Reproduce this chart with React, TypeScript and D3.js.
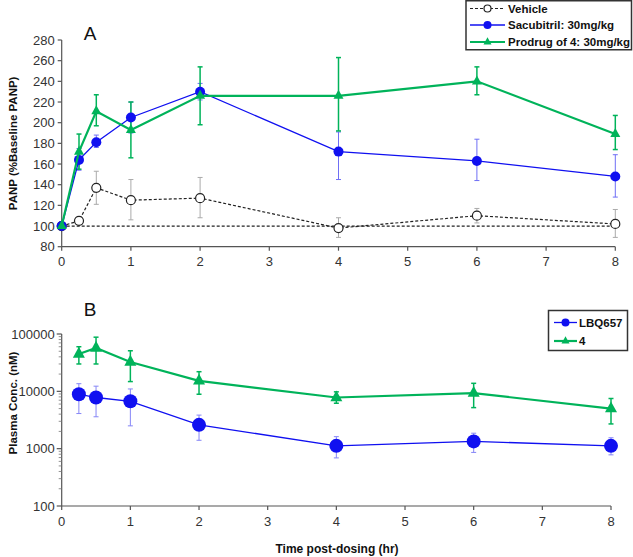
import React from "react";
import * as d3 from "d3";

const timesA = [0, 0.25, 0.5, 1, 2, 4, 6, 8];
const vehicle = [100, 105, 137, 125, 127, 98, 110, 102];
const vehicleLo = [100, 105, 121, 106, 108, 89, 103, 89];
const vehicleHi = [100, 105, 153, 145, 147, 108, 117, 116];
const sacubitril = [100, 164, 181, 205, 230, 172, 163, 148];
const sacubitrilLo = [100, 154, 176, 190, 222, 145, 144, 128];
const sacubitrilHi = [100, 175, 188, 220, 238, 191, 184, 169];
const prodrug = [100, 172, 211, 193, 226, 226, 240, 189];
const prodrugLo = [100, 155, 197, 166, 198, 192, 227, 174];
const prodrugHi = [100, 189, 227, 220, 254, 263, 254, 207];

const timesB = [0.25, 0.5, 1, 2, 4, 6, 8];
const lbq = [8900, 7800, 6700, 2600, 1120, 1340, 1120];
const lbqLo = [4100, 3600, 2500, 1400, 690, 860, 780];
const lbqHi = [13600, 12300, 11000, 3850, 1620, 1860, 1550];
const cmp4 = [44800, 57000, 32500, 15200, 7800, 9300, 5000];
const cmp4Lo = [30000, 30000, 14800, 8900, 6200, 5200, 2700];
const cmp4Hi = [60000, 88000, 51000, 22000, 9800, 13800, 7500];

const ticksA = [80, 100, 120, 140, 160, 180, 200, 220, 240, 260, 280];
const ticksX = [0, 1, 2, 3, 4, 5, 6, 7, 8];
const ticksB = [100, 1000, 10000, 100000];

const BLUE = "#1010f0";
const GREEN = "#00b35a";
const FONT = "Liberation Sans, Arial, sans-serif";

function tri(cx: number, cy: number, s: number) {
  const h = s * 0.9;
  return `M${cx},${cy - h * 0.66} L${cx + s / 2},${cy + h * 0.34} L${cx - s / 2},${cy + h * 0.34} Z`;
}

export default function App() {
  const xA = d3.scaleLinear().domain([0, 8]).range([61.7, 615.3]);
  const yA = d3.scaleLinear().domain([80, 280]).range([246.7, 40]);
  const xB = d3.scaleLinear().domain([0, 8]).range([61.7, 611]);
  const yB = d3.scaleLog().domain([100, 100000]).range([506, 334]);

  const lineA = (vals: number[]) =>
    d3.line<number>().x((_, i) => xA(timesA[i])).y((v) => yA(v))(vals) || "";
  const lineB = (vals: number[]) =>
    d3.line<number>().x((_, i) => xB(timesB[i])).y((v) => yB(v))(vals) || "";

  const errBars = (
    xs: number[],
    lo: number[],
    hi: number[],
    xS: (v: number) => number,
    yS: (v: number) => number,
    color: string,
    width: number,
    opacity: number,
    key: string
  ) =>
    xs.map((t, i) => {
      if (lo[i] === hi[i]) return null;
      const x = xS(t);
      const y1 = yS(lo[i]);
      const y2 = yS(hi[i]);
      return (
        <g key={key + i} stroke={color} strokeWidth={width} opacity={opacity}>
          <line x1={x} x2={x} y1={y1} y2={y2} />
          <line x1={x - 2.5} x2={x + 2.5} y1={y1} y2={y1} />
          <line x1={x - 2.5} x2={x + 2.5} y1={y2} y2={y2} />
        </g>
      );
    });

  const minorB: number[] = [];
  for (const dec of [100, 1000, 10000]) for (let k = 2; k <= 9; k++) minorB.push(dec * k);

  return (
    <svg
      width={633}
      height={557}
      style={{ position: "absolute", left: 0, top: 0, background: "#fff" }}
      fontFamily={FONT}
    >
      {/* Panel A axes */}
      <g stroke="#555" strokeWidth={1.2}>
        <line x1={xA(0)} x2={xA(0)} y1={yA(80)} y2={yA(280)} />
        <line x1={xA(0)} x2={xA(8)} y1={yA(80)} y2={yA(80)} />
        {ticksA.map((t) => (
          <line key={"ta" + t} x1={xA(0) - 4} x2={xA(0)} y1={yA(t)} y2={yA(t)} />
        ))}
        {ticksX.map((t) => (
          <line key={"txa" + t} x1={xA(t)} x2={xA(t)} y1={yA(80)} y2={yA(80) + 4} />
        ))}
      </g>
      <g fontSize={13} fill="#333">
        {ticksA.map((t) => (
          <text key={"la" + t} x={xA(0) - 7} y={yA(t)} dy="0.35em" textAnchor="end">
            {t}
          </text>
        ))}
        {ticksX.map((t) => (
          <text key={"lxa" + t} x={xA(t)} y={yA(80) + 19.5} textAnchor="middle">
            {t}
          </text>
        ))}
      </g>
      <text x={90} y={40} fontSize={19} textAnchor="middle" fill="#111">
        A
      </text>
      <text
        transform={`translate(17,${(yA(80) + yA(280)) / 2}) rotate(-90)`}
        textAnchor="middle"
        fontSize={11.5}
        fontWeight="bold"
        fill="#111"
      >
        PANP (%Baseline PANP)
      </text>

      {/* baseline */}
      <line
        x1={xA(0)}
        x2={xA(8)}
        y1={yA(100)}
        y2={yA(100)}
        stroke="#222"
        strokeWidth={1.2}
        strokeDasharray="3,2"
      />
      {/* error bars A */}
      {errBars(timesA, vehicleLo, vehicleHi, xA, yA, "#aaa", 1, 1, "ev")}
      {errBars(timesA, sacubitrilLo, sacubitrilHi, xA, yA, BLUE, 1, 0.6, "es")}
      {errBars(timesA, prodrugLo, prodrugHi, xA, yA, GREEN, 1.5, 1, "ep")}

      {/* vehicle */}
      <path d={lineA(vehicle)} fill="none" stroke="#222" strokeWidth={1.2} strokeDasharray="3,2" />
      {vehicle.map((v, i) => (
        <circle key={"cv" + i} cx={xA(timesA[i])} cy={yA(v)} r={4.5} fill="#fff" stroke="#222" strokeWidth={1.2} />
      ))}
      {/* sacubitril */}
      <path d={lineA(sacubitril)} fill="none" stroke={BLUE} strokeWidth={1.3} />
      {sacubitril.map((v, i) => (
        <circle key={"cs" + i} cx={xA(timesA[i])} cy={yA(v)} r={5} fill={BLUE} />
      ))}
      {/* prodrug */}
      <path d={lineA(prodrug)} fill="none" stroke={GREEN} strokeWidth={2.2} />
      {prodrug.map((v, i) => (
        <path key={"tp" + i} d={tri(xA(timesA[i]), yA(v), 10)} fill={GREEN} />
      ))}

      {/* Legend A */}
      <rect x={466} y={0.75} width={165.5} height={49} fill="#fff" stroke="#333" strokeWidth={1.5} />
      <g fontSize={11.5} fontWeight="bold" fill="#111">
        <line x1={470} x2={505} y1={8.5} y2={8.5} stroke="#222" strokeWidth={1.2} strokeDasharray="3,2" />
        <circle cx={487.5} cy={8.5} r={3.5} fill="#fff" stroke="#222" strokeWidth={1.2} />
        <text x={508} y={8.5} dy="0.35em">Vehicle</text>
        <line x1={470} x2={505} y1={25} y2={25} stroke={BLUE} strokeWidth={1.3} />
        <circle cx={487.5} cy={25} r={4} fill={BLUE} />
        <text x={508} y={25} dy="0.35em">Sacubitril: 30mg/kg</text>
        <line x1={470} x2={505} y1={42} y2={42} stroke={GREEN} strokeWidth={2.2} />
        <path d={tri(487.5, 42, 8)} fill={GREEN} />
        <text x={508} y={42} dy="0.35em">Prodrug of 4: 30mg/kg</text>
      </g>

      {/* Panel B axes */}
      <g stroke="#555" strokeWidth={1.2}>
        <line x1={xB(0)} x2={xB(0)} y1={yB(100)} y2={yB(100000)} />
        <line x1={xB(0)} x2={xB(8)} y1={yB(100)} y2={yB(100)} />
        {ticksB.map((t) => (
          <line key={"tb" + t} x1={xB(0) - 5} x2={xB(0)} y1={yB(t)} y2={yB(t)} />
        ))}
        {ticksX.map((t) => (
          <line key={"txb" + t} x1={xB(t)} x2={xB(t)} y1={yB(100)} y2={yB(100) + 4} />
        ))}
      </g>
      <g stroke="#777" strokeWidth={0.8}>
        {minorB.map((t) => (
          <line key={"mb" + t} x1={xB(0) - 3} x2={xB(0)} y1={yB(t)} y2={yB(t)} />
        ))}
      </g>
      <g fontSize={13} fill="#333">
        {ticksB.map((t) => (
          <text key={"lb" + t} x={xB(0) - 7} y={yB(t)} dy="0.35em" textAnchor="end">
            {t}
          </text>
        ))}
        {ticksX.map((t) => (
          <text key={"lxb" + t} x={xB(t)} y={yB(100) + 19.5} textAnchor="middle">
            {t}
          </text>
        ))}
      </g>
      <text x={90} y={316} fontSize={19} textAnchor="middle" fill="#111">
        B
      </text>
      <text
        transform={`translate(17,403) rotate(-90)`}
        textAnchor="middle"
        fontSize={11.5}
        fontWeight="bold"
        fill="#111"
      >
        Plasma Conc. (nM)
      </text>
      <text x={337} y={553} textAnchor="middle" fontSize={12} fontWeight="bold" fill="#111">
        Time post-dosing (hr)
      </text>

      {errBars(timesB, lbqLo, lbqHi, xB, yB, BLUE, 1, 0.5, "eb")}
      {errBars(timesB, cmp4Lo, cmp4Hi, xB, yB, GREEN, 1.5, 1, "eg")}
      <path d={lineB(lbq)} fill="none" stroke={BLUE} strokeWidth={1.3} />
      {lbq.map((v, i) => (
        <circle key={"cb" + i} cx={xB(timesB[i])} cy={yB(v)} r={7} fill={BLUE} />
      ))}
      <path d={lineB(cmp4)} fill="none" stroke={GREEN} strokeWidth={2.2} />
      {cmp4.map((v, i) => (
        <path key={"tg" + i} d={tri(xB(timesB[i]), yB(v), 12)} fill={GREEN} />
      ))}

      {/* Legend B */}
      <rect x={548.5} y={310.5} width={79} height={40} fill="#fff" stroke="#333" strokeWidth={1.5} />
      <g fontSize={11.5} fontWeight="bold" fill="#111">
        <line x1={554} x2={577} y1={322.5} y2={322.5} stroke={BLUE} strokeWidth={1.3} />
        <circle cx={565.5} cy={322.5} r={4} fill={BLUE} />
        <text x={579} y={322.5} dy="0.35em">LBQ657</text>
        <line x1={554} x2={577} y1={341} y2={341} stroke={GREEN} strokeWidth={2.2} />
        <path d={tri(565.5, 341, 8)} fill={GREEN} />
        <text x={579} y={341} dy="0.35em">4</text>
      </g>
    </svg>
  );
}
